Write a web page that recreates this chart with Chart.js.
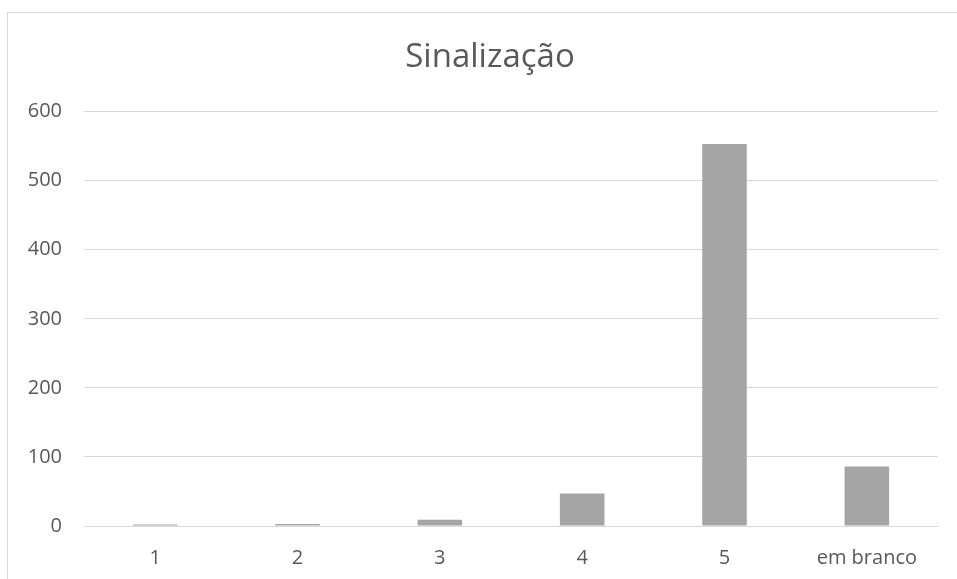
<!DOCTYPE html>
<html>
<head>
<meta charset="utf-8">
<script src="https://cdn.jsdelivr.net/npm/chart.js@4/dist/chart.umd.min.js"></script>
<style>
html,body{margin:0;padding:0;background:#fff;overflow:hidden;width:957px;height:579px;}
#wrap{position:absolute;left:7px;top:12px;width:970px;height:600px;border:1px solid #d9d9d9;box-sizing:content-box;}
#c{display:block;}
</style>
</head>
<body>
<div id="wrap"><canvas id="c" width="964" height="566"></canvas></div>
<script>
const chartTitle = "Sinalização";
const categories = ["1", "2", "3", "4", "5", "em branco"];
const counts = [2, 3, 9, 47, 553, 86];
const yTicks = [0, 100, 200, 300, 400, 500, 600];

const FONT = "'Open Sans', Lato, sans-serif";
const TXT = "#595959";

new Chart(document.getElementById('c'), {
  type: 'bar',
  data: {
    labels: categories,
    datasets: [{
      label: chartTitle,
      data: counts,
      backgroundColor: '#a5a5a5',
      borderWidth: 0,
      categoryPercentage: 1,
      barPercentage: 0.313
    }]
  },
  options: {
    responsive: false,
    animation: false,
    layout: { padding: 0 },
    plugins: {
      legend: { display: false },
      tooltip: { enabled: false },
      title: {
        display: true,
        text: chartTitle,
        color: TXT,
        font: { family: FONT, size: 33, weight: 'normal' },
        padding: { top: 25, bottom: 34 }
      }
    },
    scales: {
      x: {
        grid: { display: false, drawTicks: false },
        border: { display: true, color: '#d9d9d9', width: 1 },
        ticks: { color: TXT, font: { family: FONT, size: 20 }, padding: 20, maxRotation: 0 },
        afterFit: s => { s.height = 53; }
      },
      y: {
        min: 0, max: 600,
        afterBuildTicks: s => { s.ticks = yTicks.map(v => ({ value: v })); },
        grid: { color: '#d9d9d9', lineWidth: 1, drawTicks: false },
        border: { display: false },
        ticks: { color: TXT, font: { family: FONT, size: 20 }, padding: 22 },
        afterFit: s => { s.width = 76; }
      },
      yPad: {
        position: 'right',
        display: true,
        min: 0, max: 600,
        grid: { display: false, drawTicks: false },
        border: { display: false },
        ticks: { display: false },
        afterFit: s => { s.width = 34; }
      }
    }
  }
});
</script>
</body>
</html>
